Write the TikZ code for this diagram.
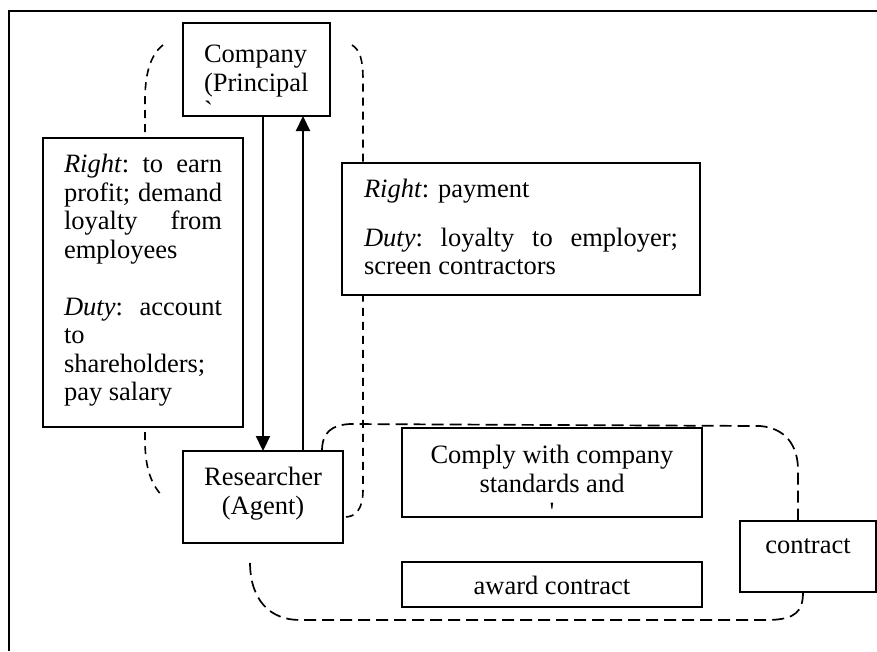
\documentclass[tikz,border=0pt]{standalone}
\usepackage{fontspec}
\setmainfont{Liberation Serif}
\usetikzlibrary{arrows.meta,backgrounds}
\newcommand{\boxtext}[5]{\parbox[c][#1][t]{#2}{#4\vspace*{#3}\strut#5}}

\tikzset{
  box/.style={draw, fill=white, line width=1.7pt, inner xsep=#1, inner ysep=0pt, outer sep=0pt, anchor=north west},
  box/.default=20pt,
  grp/.style={line width=1.6pt, dash pattern=on 8pt off 6pt},
  grpwide/.style={line width=1.7pt, dash pattern=on 12pt off 6pt},
  >={Triangle[length=15pt,width=14pt]}
}

\begin{document}
\begin{tikzpicture}[x=1pt, y=-1pt, font=\fontsize{26.5}{28.5}\selectfont]
        \useasboundingbox (0,0) rectangle (877,651);
        \draw[line width=1.9pt] (9,651) -- (9,11) -- (877,11);

        \node[box=21pt] (company) at (183,23) {\boxtext{93pt}{105pt}{20pt}{\raggedright}{Company\\(Principal\\\textasciigrave}};
        \node[box=21pt] (rights) at (43,138) {\boxtext{289pt}{158pt}{15pt}{}{%
          \textit{Right}:\hfill to\hfill earn\\
          profit;\hfill demand\\
          loyalty\hfill from\\
          employees\\[28.5pt]
          \textit{Duty}:\hfill account\\
          to\\
          shareholders;\\
          pay salary}};
        \node[box=22pt] (duties) at (342,163) {\boxtext{132pt}{314pt}{15pt}{}{%
          \textit{Right}: payment\\[20pt]
          \textit{Duty}:\hfill loyalty\hfill to\hfill employer;\\
          screen contractors}};
        \node[box=10pt] (researcher) at (183,451) {\boxtext{92pt}{140pt}{15pt}{\centering}{Researcher\\(Agent)}};
        \node[box=20pt] (comply) at (402,428) {\boxtext{89pt}{260pt}{16pt}{\centering}{Comply with company\\standards and\\\textquotesingle}};
        \node[box=20pt] (award) at (402,562) {\boxtext{45pt}{260pt}{13pt}{\centering}{award contract}};
        \node[box=10pt] (contract) at (740,521) {\boxtext{71pt}{116pt}{13pt}{\centering}{contract}};

        \draw[->, line width=2.2pt] (company.south -| researcher.north) -- (researcher.north);
        \draw[->, line width=2.2pt] ([xshift=40pt]researcher.north) -- ([xshift=40pt]researcher.north |- company.south);

        \begin{scope}[on background layer]
        \draw[grp] ([shift={(-20,22)}]company.north west) .. controls (150,55) and (145,75) .. (145,100)
          -- (145,440) .. controls (145,470) and (152,485) .. ([xshift=-20pt]researcher.west);
        \draw[grp] ([shift={(22,22)}]company.north east) .. controls (360,50) and (363,60) .. (363,80)
          -- (363,490) .. controls (363,510) and (355,517) .. ([shift={(2,20)}]researcher.east);
        \draw[grpwide] ([xshift=-21pt]researcher.north east) .. controls (322,432) and (332,425) .. (350,424)
          -- (760,426) .. controls (785,428) and (798,445) .. (798,470) -- ([xshift=-10pt]contract.north);
        \draw[grpwide] ([xshift=-5pt]contract.south) .. controls (803,612) and (795,619) .. (770,620)
          -- (300,620) .. controls (270,620) and (250,600) .. ([shift={(-13,19)}]researcher.south);
        \end{scope}
      \end{tikzpicture}
\end{document}
